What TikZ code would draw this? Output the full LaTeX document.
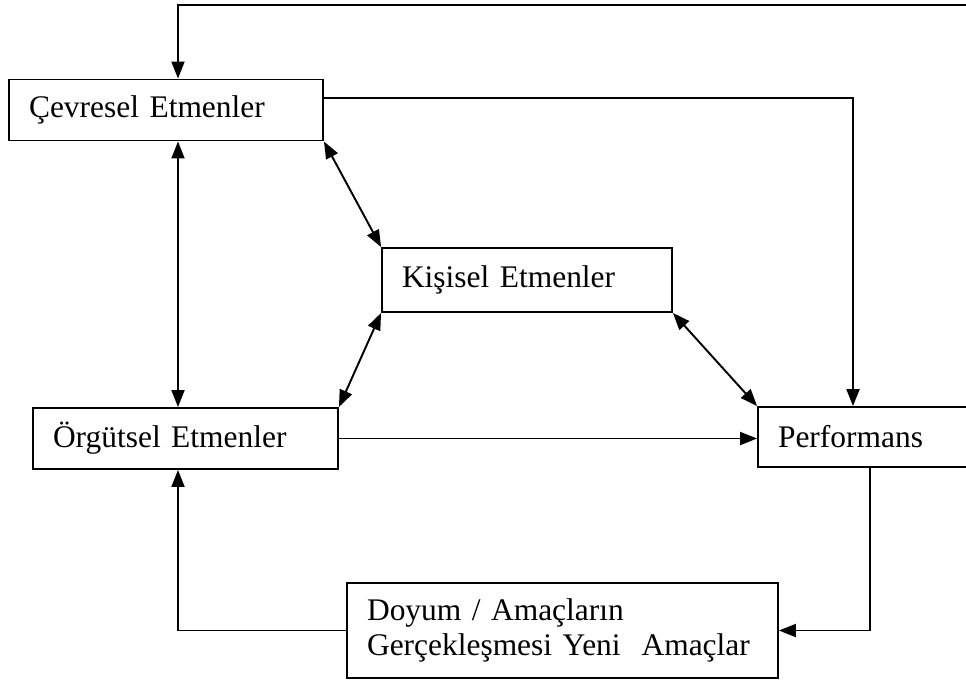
\documentclass[tikz,border=0pt]{standalone}
\usepackage{fontspec}
\setmainfont{Liberation Serif}
\usepackage{tikz}
\usetikzlibrary{arrows.meta,positioning,calc}
\tikzset{
  kutu/.style ={rectangle, draw=black, line width=1.1pt, fill=white,
                align=left, inner xsep=0.4cm, inner ysep=0pt, text width=#1,
                font=\fontsize{17.9}{19.9}\selectfont},
  ok/.style   ={-{Triangle[length=0.34cm,width=0.26cm]}, draw=black, line width=1.1pt},
  iki/.style  ={{Triangle[length=0.34cm,width=0.26cm]}-{Triangle[length=0.34cm,width=0.26cm]},
                draw=black, line width=1.1pt}
}

\begin{document}
\begin{tikzpicture}[x=0.02cm,y=-0.02cm]
\useasboundingbox (0,0) rectangle (966,680);
\clip (0,0) rectangle (966,680);

\node[kutu=5.48cm, minimum height=1.22cm] (cevre) at (166,110) {Çevresel Etmenler};
\node[kutu=5.0cm,  minimum height=1.28cm] (kisi)  at (527,280) {Kişisel Etmenler};
\node[kutu=5.3cm,  minimum height=1.22cm] (orgut) at (185.5,438.5) {Örgütsel Etmenler};
\node[kutu=3.68cm, minimum height=1.2cm]  (perf)  at (870,437) {Performans};
\node[kutu=7.82cm, minimum height=1.9cm]  (doyum) at (562.5,630.5)
  {Doyum / Amaçların\\Gerçekleşmesi Yeni~~Amaçlar};

\coordinate (sol) at (178,5);
\coordinate (sag) at (853,98);

\draw[ok] (perf.east) -- ++(15,0) |- (sol) -- (cevre.north -| sol);
\draw[ok] (cevre.east |- sag) -| (perf.north -| sag);
\draw[iki] (cevre.south -| sol) -- (orgut.north -| sol);
\draw[iki] (cevre.south east) -- (kisi.north west);
\draw[iki] (kisi.south west) -- (orgut.north east);
\draw[iki] (kisi.south east) -- (perf.north west);
\draw[ok] (orgut.east) -- (orgut.east -| perf.west);
\draw[ok] (perf.south) |- (doyum.east);
\draw[ok] (doyum.west) -| (orgut.south -| sol);
\end{tikzpicture}
\end{document}
